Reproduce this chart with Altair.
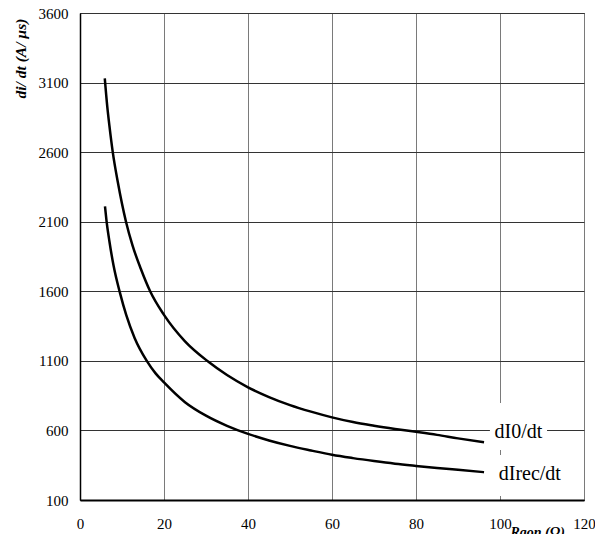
import altair as alt
import pandas as pd

# dI0/dt curve
x_i0 = [5.9, 6.5, 7, 7.8, 9, 10.95, 12.5, 14.5, 16.7, 20, 25, 30.5, 35, 40, 45, 50, 55, 60,
        65, 70, 75, 80, 85, 90, 96.2]
y_i0 = [3130, 2925, 2790, 2600, 2385, 2100, 1930, 1760, 1600, 1430, 1240, 1095, 998, 910, 840,
        782, 735, 694, 660, 634, 611, 590, 568, 543, 515]

# dIrec/dt curve
x_rec = [5.95, 6.3, 7, 8, 9.5, 11, 13, 15.9, 18, 20, 25, 30, 35, 40, 45, 50, 55, 60, 65, 70,
         75, 80, 85, 90, 96.2]
y_rec = [2210, 2110, 1960, 1783, 1590, 1430, 1265, 1100, 1010, 945, 803, 706, 633, 575, 528,
         489, 456, 425, 401, 380, 361, 345, 330, 317, 300]

# curve labels
label_text = ["dI0/dt", "dIrec/dt"]
label_x = [104.4, 107.1]
label_y = [588, 287]
# white boxes behind labels (data units)
box_x = [97.6, 97.6]
box_x2 = [111.2, 116.4]
box_y = [459, 129]
box_y2 = [797, 423]

x_ticks = [0, 20, 40, 60, 80, 100, 120]
y_ticks = [100, 600, 1100, 1600, 2100, 2600, 3100, 3600]

df = pd.concat([
    pd.DataFrame({"x": x_i0, "y": y_i0, "s": "dI0/dt", "kind": "line"}),
    pd.DataFrame({"x": x_rec, "y": y_rec, "s": "dIrec/dt", "kind": "line"}),
    pd.DataFrame({"x": label_x, "y": label_y, "t": label_text, "kind": "label"}),
    pd.DataFrame({"x": box_x, "x2": box_x2, "y": box_y, "y2": box_y2, "kind": "box"}),
], ignore_index=True)

FONT = "Liberation Serif"
xs = alt.Scale(domain=[0, 120], nice=False, zero=False)
ys = alt.Scale(domain=[100, 3600], nice=False, zero=False)

xaxis = alt.Axis(values=x_ticks, format="d", title="Rgon (Ω)", gridColor="#7a7a7a",
                 labelPadding=16, domainWidth=2, titleAlign="left", titleAnchor="start",
                 titleX=430, titleY=36, titleBaseline="alphabetic", titleFontSize=14)
yaxis = alt.Axis(values=y_ticks, format="d", title="di/ dt (A/ µs)", gridColor="#333333",
                 labelPadding=12, domainWidth=1.5, titleAngle=270, titleAlign="right",
                 titleAnchor="end", titleX=-60, titleY=5, titleBaseline="middle",
                 titleFontSize=15.5)

base = alt.Chart(df).encode(
    x=alt.X("x:Q", scale=xs, axis=xaxis),
    y=alt.Y("y:Q", scale=ys, axis=yaxis),
)

rects = base.transform_filter(alt.datum.kind == "box").mark_rect(color="white").encode(
    x2="x2:Q", y2="y2:Q"
)
lines = base.transform_filter(alt.datum.kind == "line").mark_line(
    color="black", strokeWidth=2.5, interpolate="monotone"
).encode(detail="s:N", order="x:Q")
texts = base.transform_filter(alt.datum.kind == "label").mark_text(
    font=FONT, fontSize=20, color="black", align="center", baseline="middle"
).encode(text="t:N")

chart = alt.layer(rects, lines, texts).properties(
    width=504, height=487,
    autosize=alt.AutoSizeParams(type="none"),
    padding={"left": 72, "top": 5, "right": 11, "bottom": 34},
).configure(
    font=FONT, background="white"
).configure_axis(
    labelFont=FONT, labelFontSize=15, labelColor="black", labelFontWeight="normal",
    titleFont=FONT, titleFontWeight="bold", titleFontStyle="italic",
    titleColor="black", ticks=False, domainColor="black", labelFlush=False,
    labelOverlap=False, grid=True, gridWidth=1,
).configure_view(stroke="black", strokeWidth=1)

chart.save("out.html", embed_options={"renderer": "svg", "actions": False})
